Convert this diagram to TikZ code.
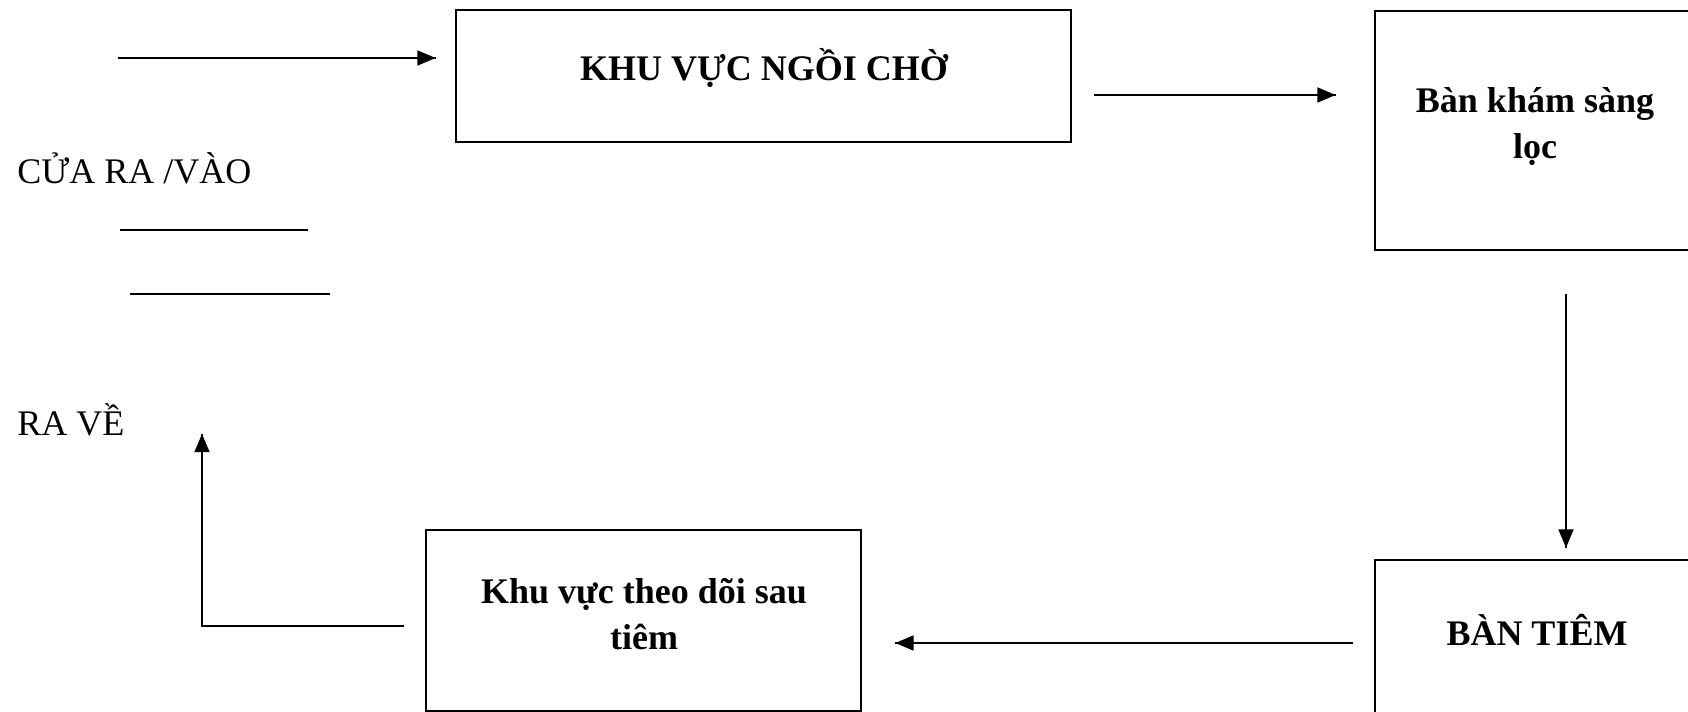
\documentclass[tikz,border=0pt]{standalone}
\usepackage{fontspec}
\setmainfont{Liberation Serif}
\usetikzlibrary{arrows}
\usetikzlibrary{decorations.markings}
\usetikzlibrary{calc}
\tikzset{flow/.style = {line width=1pt,
                        decoration={markings,
                                    mark=at position 1 with {\arrow[scale=1.05]{triangle 45}}},
                        postaction={decorate}}}
\tikzset{zone/.style = {draw, rectangle, line width=1.4pt, inner sep=0}}
\tikzset{zlabel/.style = {font=\bfseries\fontsize{18}{23}\selectfont, align=center, inner sep=0}}
\tikzset{plain/.style = {font=\fontsize{18}{22}\selectfont, inner sep=0}}

\begin{document}
\begin{tikzpicture}[x=0.5pt, y=-0.5pt]
    \useasboundingbox (0, 0) rectangle (1688, 712);
    \clip (0, 0) rectangle (1688, 712);

    \node [zone, minimum width=307.5pt, minimum height=66pt] (wait) at (763.5, 76) {};
    \node [zone, minimum width=162.5pt, minimum height=119.5pt] (screen) at (1537.5, 130.5) {};
    \node [zone, minimum width=162.5pt, minimum height=100pt] (inject) at (1537.5, 660) {};
    \node [zone, minimum width=217.5pt, minimum height=90.5pt] (monitor) at (643.5, 620.5) {};

    \node [zlabel] (waitlbl) at (764, 68) {KHU VỰC NGỒI CHỜ};
    \node [zlabel] (screenlbl) at (1535, 127) {Bàn khám sàng\\lọc};
    \node [zlabel] (injectlbl) at (1537, 630) {BÀN TIÊM};
    \node [zlabel] (monitorlbl) at (644, 614) {Khu vực theo dõi sau\\tiêm};

    \node [plain, anchor=base west] (door) at (17, 183) {CỬA RA /VÀO};
    \node [plain, anchor=base west] (leave) at (17, 435) {RA VỀ};

    \coordinate (entry) at (118, 58);
    \coordinate (exit) at (202, 434);

    \draw [flow] (entry) -- ($(wait.west) + (-19, -18)$);
    \draw [flow] ($(wait.east) + (22, 19)$) -- ($(screen.west) + (-38, -35.5)$);
    \draw [flow] ($(screen.south) + (28.5, 43)$) -- ($(inject.north) + (28.5, -11)$);
    \draw [flow] ($(inject.west) + (-21, -17)$) -- ($(monitor.east) + (33, 22.5)$);
    \draw [flow] ($(monitor.west) + (-21, 5.5)$) -| (exit);

    \draw [line width=0.6pt] (120, 230) -- (308, 230);
    \draw [line width=0.6pt] (130, 294) -- (330, 294);
  \end{tikzpicture}
\end{document}
